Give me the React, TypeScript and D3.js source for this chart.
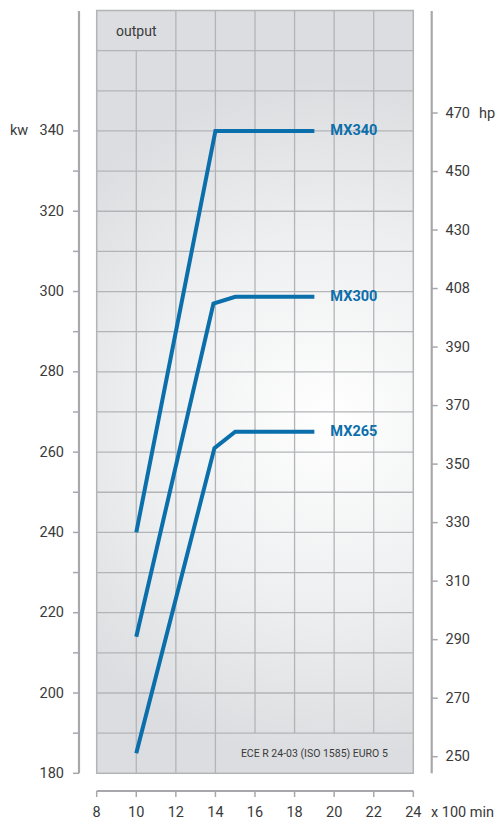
import React from "react";
import * as d3 from "d3";

const rpmTicks = [8, 10, 12, 14, 16, 18, 20, 22, 24];
const kwTicks = [180, 190, 200, 210, 220, 230, 240, 250, 260, 270, 280, 290, 300, 310, 320, 330, 340];
const kwLabels = [180, 200, 220, 240, 260, 280, 300, 320, 340];
const hpTicks = [250, 270, 290, 310, 330, 350, 370, 390, 410, 430, 450, 470];
const hpLabels = ["250", "270", "290", "310", "330", "350", "370", "390", "408", "430", "450", "470"];

const mx340 = [
  { rpm: 10, kw: 240 },
  { rpm: 14, kw: 340 },
  { rpm: 19, kw: 340 },
];
const mx300 = [
  { rpm: 10, kw: 214 },
  { rpm: 13.9, kw: 297 },
  { rpm: 15, kw: 298.7 },
  { rpm: 19, kw: 298.7 },
];
const mx265 = [
  { rpm: 10, kw: 185 },
  { rpm: 13.95, kw: 261 },
  { rpm: 15, kw: 265.1 },
  { rpm: 19, kw: 265.1 },
];
const seriesNames = ["MX340", "MX300", "MX265"];
const seriesData = [mx340, mx300, mx265];

const W = 498;
const H = 819;
const BLUE = "#0b6fab";
const GRID = "#b3b4b7";
const AXIS = "#a7a8ac";
const TEXT = "#3a3a3a";
const FONT = "Roboto, 'DejaVu Sans', sans-serif";

export default function App() {
  const x = d3.scaleLinear().domain([8, 24]).range([96.7, 413.3]);
  const y = d3.scaleLinear().domain([180, 370]).range([773.3, 10.5]);
  const hp = d3.scaleLinear().domain([250, 470]).range([756.7, 113]);

  const line = d3
    .line<{ rpm: number; kw: number }>()
    .x((d) => x(d.rpm))
    .y((d) => y(d.kw));

  const x0 = x(8);
  const x1 = x(24);
  const yTop = y(370);
  const yBot = y(180);

  const hLines = d3.range(190, 370, 10);
  const vLines = rpmTicks.slice(1, -1);

  const leftAxisX = 79;
  const rightAxisX = 431.7;
  const bottomAxisY = 791;

  return (
    <svg width={W} height={H} style={{ position: "absolute", left: 0, top: 0 }} fontFamily={FONT}>
      <defs>
        <radialGradient id="bg" gradientUnits="userSpaceOnUse" cx={330} cy={420} r={340}>
          <stop offset="0" stopColor="#ffffff" />
          <stop offset="0.55" stopColor="#eeeff0" />
          <stop offset="1" stopColor="#dcdde0" />
        </radialGradient>
      </defs>
      <rect x={x0} y={yTop} width={x1 - x0} height={yBot - yTop} fill="url(#bg)" />
      {/* horizontal grid */}
      {hLines.map((v) => (
        <line key={"h" + v} x1={x0} x2={x1} y1={y(v)} y2={y(v)} stroke={GRID} strokeWidth={1.3} />
      ))}
      {/* vertical grid */}
      {vLines.map((v) => {
        const top = v === 10 ? y(360) : yTop;
        const bot = v >= 16 ? y(190) : yBot;
        return <line key={"v" + v} x1={x(v)} x2={x(v)} y1={top} y2={bot} stroke={GRID} strokeWidth={1.3} />;
      })}
      <rect x={x0} y={yTop} width={x1 - x0} height={yBot - yTop} fill="none" stroke={GRID} strokeWidth={1.5} />
      <text x={(x(8) + x(12)) / 2} y={(y(370) + y(360)) / 2} textAnchor="middle" dominantBaseline="central" fontSize={14} fill={TEXT}>
        output
      </text>
      <text x={(x(14) + x(24)) / 2} y={(y(190) + y(180)) / 2} textAnchor="middle" dominantBaseline="central" fontSize={10.5} fill={TEXT}>
        ECE R 24-03 (ISO 1585) EURO 5
      </text>

      {/* series */}
      {seriesData.map((s, i) => (
        <g key={seriesNames[i]}>
          <path d={line(s) || ""} fill="none" stroke={BLUE} strokeWidth={4} strokeLinejoin="miter" />
          <text
            x={x(s[s.length - 1].rpm) + 16}
            y={y(s[s.length - 1].kw)}
            dominantBaseline="central"
            fontSize={14.5}
            fontWeight="bold"
            fill={BLUE}
          >
            {seriesNames[i]}
          </text>
        </g>
      ))}

      {/* left axis */}
      <line x1={leftAxisX} x2={leftAxisX} y1={11} y2={yBot} stroke={AXIS} strokeWidth={2.2} />
      {kwTicks.map((v) => (
        <line key={"kt" + v} x1={leftAxisX - 6} x2={leftAxisX} y1={y(v)} y2={y(v)} stroke={AXIS} strokeWidth={1.5} />
      ))}
      {kwLabels.map((v) => (
        <text key={"kl" + v} x={64} y={y(v)} textAnchor="end" dominantBaseline="central" fontSize={14.5} fill={TEXT}>
          {v}
        </text>
      ))}
      <text x={10} y={y(340)} dominantBaseline="central" fontSize={14.5} fill={TEXT}>
        kw
      </text>

      {/* right axis */}
      <line x1={rightAxisX} x2={rightAxisX} y1={11} y2={yBot} stroke={AXIS} strokeWidth={2.2} />
      {hpTicks.map((v, i) => (
        <g key={"ht" + v}>
          <line x1={rightAxisX} x2={rightAxisX + 6} y1={hp(v)} y2={hp(v)} stroke={AXIS} strokeWidth={1.5} />
          <text x={445.5} y={hp(v)} dominantBaseline="central" fontSize={14.5} fill={TEXT}>
            {hpLabels[i]}
          </text>
        </g>
      ))}
      <text x={479} y={hp(470)} dominantBaseline="central" fontSize={14.5} fill={TEXT}>
        hp
      </text>

      {/* bottom axis */}
      <line x1={x0} x2={x1} y1={bottomAxisY} y2={bottomAxisY} stroke={AXIS} strokeWidth={2.2} />
      {rpmTicks.map((v) => (
        <g key={"bt" + v}>
          <line x1={x(v)} x2={x(v)} y1={bottomAxisY} y2={bottomAxisY + 6} stroke={AXIS} strokeWidth={1.5} />
          <text x={x(v)} y={812} textAnchor="middle" dominantBaseline="central" fontSize={14.5} fill={TEXT}>
            {v}
          </text>
        </g>
      ))}
      <text x={431} y={812} dominantBaseline="central" fontSize={14.5} fill={TEXT}>
        x 100 min
      </text>
    </svg>
  );
}
